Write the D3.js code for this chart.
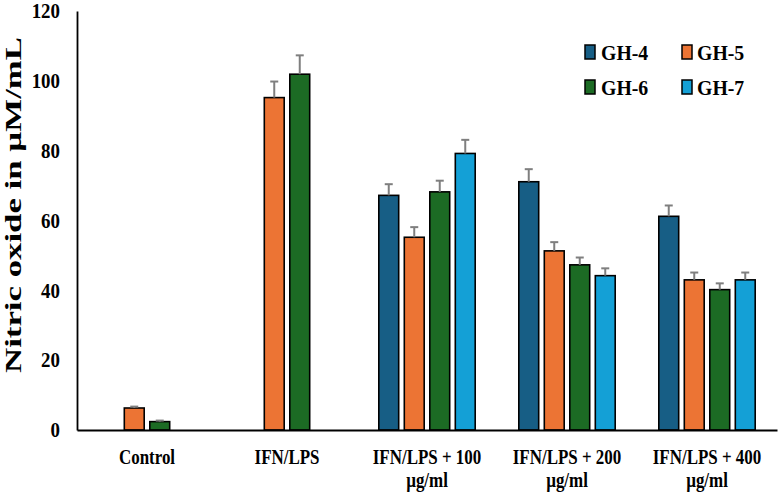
<!DOCTYPE html>
<html>
<head>
<meta charset="utf-8">
<script src="https://cdn.jsdelivr.net/npm/d3@7"></script>
<style>
  body { margin: 0; background: #fff; }
  text { font-family: "Liberation Serif", "Times New Roman", serif; font-weight: bold; fill: #000; }
</style>
</head>
<body>
<svg id="chart" width="779" height="498"></svg>
<script>
// values
const categories = [["Control"], ["IFN/LPS"], ["IFN/LPS + 100", "µg/ml"], ["IFN/LPS + 200", "µg/ml"], ["IFN/LPS + 400", "µg/ml"]];
const seriesNames = ["GH-4", "GH-5", "GH-6", "GH-7"];
const gh4 = [null, null, 67.2, 71.1, 61.2];
const gh5 = [6.3, 95.2, 55.2, 51.3, 43.0];
const gh6 = [2.4, 101.9, 68.2, 47.3, 40.2];
const gh7 = [null, null, 79.2, 44.2, 43.0];
const gh4Err = [null, null, 3.2, 3.6, 3.1];
const gh5Err = [0.4, 4.6, 2.9, 2.5, 2.1];
const gh6Err = [0.3, 5.4, 3.2, 2.1, 1.8];
const gh7Err = [null, null, 3.9, 2.1, 2.1];
const yTicks = [0, 20, 40, 60, 80, 100, 120];
const colors = ["#175e85", "#ec7434", "#1c6b24", "#14a0d6"];

const values = [gh4, gh5, gh6, gh7];
const errors = [gh4Err, gh5Err, gh6Err, gh7Err];

const bars = [];
categories.forEach((c, ci) => {
    seriesNames.forEach((s, si) => {
        if (values[si][ci] != null)
            bars.push({ ci, series: s, si, value: values[si][ci], err: errors[si][ci] });
    });
});

const svg = d3.select("#chart");
const plotLeft = 77, plotRight = 777, plotTop = 11, plotBottom = 430;

const x0 = d3.scaleBand()
    .domain(categories.map((d, i) => i))
    .range([plotLeft, plotRight]);

const x1 = d3.scaleBand()
    .domain(seriesNames)
    .range([19, 121])
    .paddingInner(0.22)
    .paddingOuter(0.11);

const y = d3.scaleLinear().domain([0, 120]).range([plotBottom, plotTop]);

// bars
svg.append("g").selectAll("rect")
    .data(bars)
    .enter().append("rect")
    .attr("x", d => x0(d.ci) + x1(d.series))
    .attr("y", d => y(d.value))
    .attr("width", x1.bandwidth())
    .attr("height", d => y(0) - y(d.value))
    .attr("fill", d => colors[d.si])
    .attr("stroke", "#000")
    .attr("stroke-width", 1.6);

// error bars (upper only)
const eb = svg.append("g").attr("stroke", "#7f7f7f").attr("stroke-width", 2);
bars.forEach(d => {
    const cx = x0(d.ci) + x1(d.series) + x1.bandwidth() / 2;
    eb.append("line")
        .attr("x1", cx).attr("x2", cx)
        .attr("y1", y(d.value)).attr("y2", y(d.value + d.err));
    eb.append("line")
        .attr("x1", cx - 4).attr("x2", cx + 4)
        .attr("y1", y(d.value + d.err)).attr("y2", y(d.value + d.err));
});

// y axis
const yAxis = svg.append("g")
    .attr("transform", `translate(${plotLeft},0)`)
    .call(d3.axisLeft(y).tickValues(yTicks).tickSize(0).tickSizeOuter(0));
yAxis.select(".domain").attr("stroke", "#000").attr("stroke-width", 1.8);
yAxis.selectAll("text")
    .style("font-size", "21px")
    .attr("x", -17 / 0.9)
    .attr("transform", "scale(0.9,1)");

// x axis
const xAxis = svg.append("g")
    .attr("transform", `translate(0,${plotBottom})`)
    .call(d3.axisBottom(x0).tickSize(0).tickSizeOuter(0).tickFormat(""));
xAxis.select(".domain").attr("stroke", "#000").attr("stroke-width", 2.2);
xAxis.selectAll(".tick text").remove();
xAxis.selectAll(".tick").each(function(i) {
    const t = d3.select(this).append("text")
        .attr("text-anchor", "middle")
        .attr("transform", "translate(0,34) scale(0.77,1)")
        .style("font-size", "22px");
    categories[i].forEach((line, li) => {
        t.append("tspan").attr("x", 0).attr("y", li * 23).text(line);
    });
});

// y title
svg.append("text")
    .attr("transform", "translate(21,205) rotate(-90) scale(1.45,1)")
    .attr("text-anchor", "middle")
    .style("font-size", "24px")
    .text("Nitric oxide in µM/mL");

// legend
const legend = svg.append("g");
seriesNames.forEach((s, i) => {
    const col = i % 2, row = Math.floor(i / 2);
    legend.append("rect")
        .attr("x", 585 + col * 97)
        .attr("y", 45 + row * 35)
        .attr("width", 10)
        .attr("height", 14)
        .attr("fill", colors[i])
        .attr("stroke", "#000")
        .attr("stroke-width", 1.5);
    legend.append("text")
        .attr("transform", `translate(${601 + col * 96},${60 + row * 35}) scale(0.9,1)`)
        .style("font-size", "22px")
        .text(s);
});
</script>
</body>
</html>
